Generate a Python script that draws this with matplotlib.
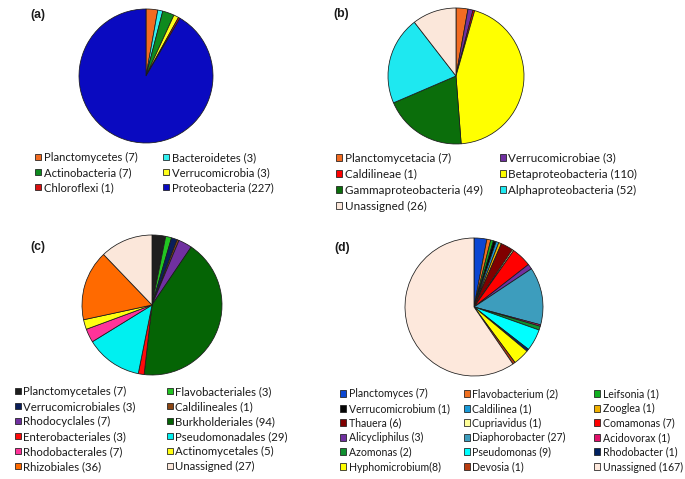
import matplotlib
matplotlib.use("Agg")
import matplotlib.pyplot as plt

plt.rcParams['font.family'] = ['Lato', 'DejaVu Sans']

# ---------------- data ----------------
a_labels = ["Planctomycetes (7)", "Bacteroidetes (3)", "Actinobacteria (7)",
            "Verrucomicrobia (3)", "Chloroflexi (1)", "Proteobacteria (227)"]
a_values = [7, 3, 7, 3, 1, 227]
a_colors = ["#F26B21", "#33F0F0", "#0E8A1E", "#FFFF1A", "#D91010", "#0A0AC0"]

b_labels = ["Planctomycetacia (7)", "Verrucomicrobiae (3)", "Caldilineae (1)",
            "Betaproteobacteria (110)", "Gammaproteobacteria (49)",
            "Alphaproteobacteria (52)", "Unassigned (26)"]
b_values = [7, 3, 1, 110, 49, 52, 26]
b_colors = ["#F26B21", "#7030A0", "#FF0000", "#FFFF00", "#0B6E0B", "#1EE8F0", "#FBE7DA"]

c_labels = ["Planctomycetales (7)", "Flavobacteriales (3)", "Verrucomicrobiales (3)",
            "Caldilineales (1)", "Rhodocyclales (7)", "Burkholderiales (94)",
            "Enterobacteriales (3)", "Pseudomonadales (29)", "Rhodobacterales (7)",
            "Actinomycetales (5)", "Rhizobiales (36)", "Unassigned (27)"]
c_values = [7, 3, 3, 1, 7, 94, 3, 29, 7, 5, 36, 27]
c_colors = ["#1E1E1E", "#22C422", "#0A1E5A", "#8B4513", "#7030A0", "#056405",
            "#FF0A0A", "#00F0F0", "#FF3399", "#FFFF10", "#FF6A00", "#FBE7DA"]

d_labels = ["Planctomyces (7)", "Flavobacterium (2)", "Leifsonia (1)",
            "Verrucomicrobium (1)", "Caldilinea (1)", "Zooglea (1)",
            "Thauera (6)", "Cupriavidus (1)", "Comamonas (7)",
            "Alicycliphilus (3)", "Diaphorobacter (27)", "Acidovorax (1)",
            "Azomonas (2)", "Pseudomonas (9)", "Rhodobacter (1)",
            "Hyphomicrobium(8)", "Devosia (1)", "Unassigned (167)"]
# slice shares (%) as drawn in panel (d)
d_shares = [3.0, 0.9, 0.65, 0.65, 0.65, 0.65, 2.9, 0.35, 4.7, 1.2, 13.5, 0.35,
            0.9, 5.1, 0.55, 3.8, 0.6, 59.5]
d_colors = ["#0A46D2", "#F07020", "#10B020", "#050505", "#1A9AD8", "#F0B000",
            "#800000", "#FFFF99", "#FF0000", "#7030A0", "#3D9DBD", "#E0106A",
            "#109030", "#00FFFF", "#002060", "#FFFF00", "#B83C10", "#FDE8DC"]

panel_tags = ["(a)", "(b)", "(c)", "(d)"]

W, H = 685, 479
fig = plt.figure(figsize=(W / 100, H / 100), dpi=100)
fig.patch.set_facecolor("white")


def fx(x):
    return x / W


def fy(y):
    return 1 - y / H


def pie_panel(cx, cy, r, values, colors):
    ax = fig.add_axes([fx(cx - r), fy(cy + r), 2 * r / W, 2 * r / H])
    wedges, _ = ax.pie(values, colors=colors, startangle=90, counterclock=False,
                       wedgeprops=dict(edgecolor="#1A1A1A", linewidth=0.55))
    ax.set_xlim(-1, 1)
    ax.set_ylim(-1, 1)
    ax.set_aspect("auto")
    ax.axis("off")
    return wedges


def legend_grid(wedges, labels, ncol, xs, ys, fs):
    hs = 6.2 / (fs * 100 / 72)  # square of ~6 px
    for i, (w, lab) in enumerate(zip(wedges, labels)):
        r, c = divmod(i, ncol)
        leg = fig.legend([w], [lab], loc="center left",
                         bbox_to_anchor=(fx(xs[c]), fy(ys[r] + 0.5)),
                         frameon=False, borderpad=0, borderaxespad=0,
                         handlelength=hs, handleheight=hs, handletextpad=0.22,
                         fontsize=fs)
        for t in leg.get_texts():
            t.set_color("#1A1A1A")


wa = pie_panel(146, 76, 67, a_values, a_colors)
legend_grid(wa, a_labels, 2, [35, 163], [157, 172, 187], 8.1)

wb = pie_panel(456, 76, 68, b_values, b_colors)
legend_grid(wb, b_labels, 2, [336, 499.5], [157.5, 173.5, 189.5, 206], 8.4)

wc = pie_panel(152, 305, 70, c_values, c_colors)
legend_grid(wc, c_labels, 2, [14.5, 166.5], [391, 406, 421, 436, 451, 466], 8.2)

wd = pie_panel(474, 307, 69, d_shares, d_colors)
legend_grid(wd, d_labels, 3, [340, 463.5, 594], [393, 408, 422.5, 437, 451.5, 466.5], 7.6)

for tag, (x, y) in zip(panel_tags, [(30, 15), (333, 14), (30, 247), (334, 248)]):
    fig.text(fx(x), fy(y), tag, fontsize=8.8, fontweight="bold", va="center", ha="left",
             color="#1A1A1A", family=["Liberation Sans", "DejaVu Sans"])

fig.savefig("out.png", dpi=100)
